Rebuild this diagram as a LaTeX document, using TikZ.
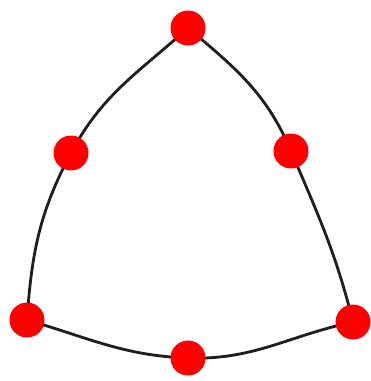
\documentclass[tikz,border=0pt]{standalone}
\usepackage{tikz}
\usetikzlibrary{backgrounds}
\usepackage{xcolor}
\definecolor{DotR}{RGB}{255,0,0}
\definecolor{EdgeK}{RGB}{30,30,30}

\begin{document}
\begin{tikzpicture}[
  x=0.02cm, y=-0.02cm,
  vdot/.style={circle, fill=DotR, draw=none, minimum size=0.7cm, inner sep=0pt},
  edge/.style={draw=EdgeK, line width=1.6pt}
]
\useasboundingbox (0,0) rectangle (370,381);

% Corners and side midpoints
\node[vdot] (T)  at (188, 28)  {};
\node[vdot] (UL) at (71, 153)  {};
\node[vdot] (UR) at (291,151)  {};
\node[vdot] (BL) at (27, 320)  {};
\node[vdot] (BM) at (188,358)  {};
\node[vdot] (BR) at (353,322)  {};

% Curved sides
\begin{scope}[on background layer]
\draw[edge] (T.center) to[out=222, in=62] (UL.center)
                       to[out=242, in=86] (BL.center);
\draw[edge] (BL.center) to[out=-16, in=178] (BM.center)
                        to[out=-2, in=192] (BR.center);
\draw[edge] (BR.center) to[out=104, in=-67] (UR.center)
                        to[out=113, in=-40] (T.center);
\end{scope}
\end{tikzpicture}
\end{document}
